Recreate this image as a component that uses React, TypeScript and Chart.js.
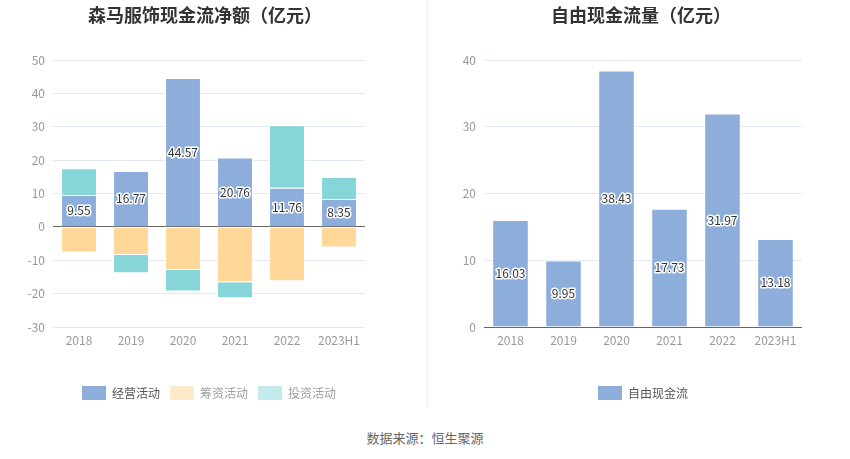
import React, { useEffect, useRef } from "react";
import { Chart, registerables } from "chart.js";

Chart.register(...registerables);

const categories = ["2018", "2019", "2020", "2021", "2022", "2023H1"];
const operating = [9.55, 16.77, 44.57, 20.76, 11.76, 8.35];
const financing = [-7.7, -8.4, -12.9, -16.6, -16.3, -6.2];
const investing = [8.0, -5.5, -6.5, -4.8, 18.7, 6.6];
const freeCashFlow = [16.03, 9.95, 38.43, 17.73, 31.97, 13.18];
const leftRange = [-30, 50];
const rightRange = [0, 40];

const FONT = '"Noto Sans CJK SC", "Noto Sans", sans-serif';
const BLUE = "#8DADDA";
const ORANGE = "#FFD899";
const TEAL = "#86D5D8";

const valueLabels = {
  id: "valueLabels",
  afterDatasetsDraw(chart: any) {
    const meta = chart.getDatasetMeta(0);
    const values = chart.data.datasets[0].data as number[];
    const ctx = chart.ctx;
    ctx.save();
    ctx.font = `12px ${FONT}`;
    ctx.textAlign = "center";
    ctx.textBaseline = "middle";
    ctx.lineWidth = 3;
    ctx.lineJoin = "round";
    ctx.strokeStyle = "#ffffff";
    ctx.fillStyle = "#333333";
    meta.data.forEach((bar: any, i: number) => {
      const p = bar.getProps(["x", "y", "base"], true);
      const cy = (p.y + p.base) / 2;
      const t = values[i].toFixed(2);
      ctx.strokeText(t, p.x, cy);
      ctx.fillText(t, p.x, cy);
    });
    ctx.restore();
  },
};

function gridColor(c: any) {
  return c.tick && c.tick.value === 0 ? "#666666" : "#E3E8F2";
}

function makeOptions(range: number[], yWidth: number, padRight: number, legendItems: any[]) {
  return {
    responsive: false,
    animation: false,
    layout: { padding: { top: 60, right: padRight, left: 0, bottom: 0 } },
    plugins: {
      title: { display: false },
      tooltip: { enabled: false },
      legend: {
        position: "bottom",
        fullSize: false,
        labels: {
          boxWidth: 24,
          boxHeight: 14,
          useBorderRadius: true,
          borderRadius: 3,
          padding: 10,
          font: { family: FONT, size: 12 },
          generateLabels: () => legendItems,
        },
      },
    },
    scales: {
      x: {
        stacked: true,
        grid: { display: false, drawTicks: false },
        border: { display: false },
        ticks: { color: "#999999", font: { family: FONT, size: 12 }, padding: 6 },
        afterFit: (s: any) => {
          s.height = 49;
        },
      },
      y: {
        stacked: true,
        min: range[0],
        max: range[1],
        ticks: { stepSize: 10, color: "#999999", font: { family: FONT, size: 12 }, padding: 8 },
        grid: { color: gridColor, drawTicks: false, lineWidth: 1 },
        border: { display: false },
        afterFit: (s: any) => {
          s.width = yWidth;
        },
      },
    },
  };
}

function ChartCanvas({ config, left, width, height }: any) {
  const ref = useRef<HTMLCanvasElement | null>(null);
  useEffect(() => {
    if (!ref.current) return;
    const chart = new Chart(ref.current, config);
    return () => chart.destroy();
  }, []);
  return (
    <canvas
      ref={ref}
      width={width}
      height={height}
      style={{ position: "absolute", left, top: 0, width, height }}
    />
  );
}

const barCommon = {
  barPercentage: 0.69,
  categoryPercentage: 1,
  borderWidth: 1,
  borderColor: "rgba(255,255,255,0.55)",
};

export default function App() {
  const leftConfig: any = {
    type: "bar",
    data: {
      labels: categories,
      datasets: [
        { label: "经营活动", data: operating, backgroundColor: BLUE, ...barCommon },
        { label: "筹资活动", data: financing, backgroundColor: ORANGE, ...barCommon },
        { label: "投资活动", data: investing, backgroundColor: TEAL, ...barCommon },
      ],
    },
    options: makeOptions(leftRange, 53, 60, [
      { text: "经营活动", fillStyle: BLUE, strokeStyle: BLUE, lineWidth: 0, fontColor: "#555555", datasetIndex: 0 },
      { text: "筹资活动", fillStyle: "#FFEACB", strokeStyle: "#FFEACB", lineWidth: 0, fontColor: "#A0A0A0", datasetIndex: 1 },
      { text: "投资活动", fillStyle: "#C3EBEC", strokeStyle: "#C3EBEC", lineWidth: 0, fontColor: "#A0A0A0", datasetIndex: 2 },
    ]),
    plugins: [valueLabels],
  };

  const rightConfig: any = {
    type: "bar",
    data: {
      labels: categories,
      datasets: [{ label: "自由现金流", data: freeCashFlow, backgroundColor: BLUE, ...barCommon }],
    },
    options: makeOptions(rightRange, 59, 48, [
      { text: "自由现金流", fillStyle: BLUE, strokeStyle: BLUE, lineWidth: 0, fontColor: "#555555", datasetIndex: 0 },
    ]),
    plugins: [valueLabels],
  };

  const titleStyle: any = {
    position: "absolute",
    top: 2,
    fontFamily: FONT,
    fontWeight: "bold",
    fontSize: 18,
    color: "#333",
    textAlign: "center",
    lineHeight: "24px",
    whiteSpace: "nowrap",
  };

  return (
    <div
      style={{
        position: "absolute",
        left: 0,
        top: 0,
        width: 850,
        height: 459,
        background: "#fff",
        overflow: "hidden",
      }}
    >
      <ChartCanvas config={leftConfig} left={0} width={425} height={410} />
      <ChartCanvas config={rightConfig} left={425} width={425} height={410} />
      <div style={{ ...titleStyle, left: 55, width: 300 }}>森马服饰现金流净额（亿元）</div>
      <div style={{ ...titleStyle, left: 491, width: 300 }}>自由现金流量（亿元）</div>
      <div style={{ position: "absolute", left: 427, top: 0, width: 1, height: 408, background: "#F0F0F0" }} />
      <div
        style={{
          position: "absolute",
          left: 0,
          top: 429,
          width: 850,
          textAlign: "center",
          fontFamily: FONT,
          fontSize: 13,
          color: "#666",
          lineHeight: "18px",
        }}
      >
        数据来源：恒生聚源
      </div>
    </div>
  );
}
